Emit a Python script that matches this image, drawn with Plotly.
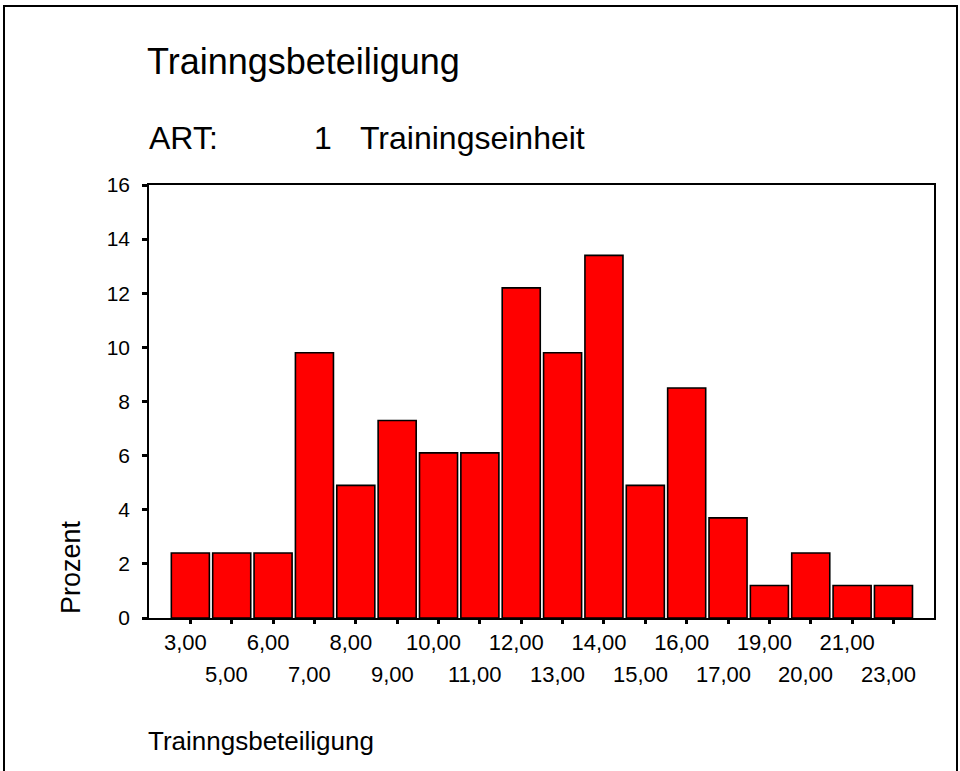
import plotly.graph_objects as go

# Trainingsbeteiligung (Kategorien) und Prozentwerte
kategorien = ["3,00", "5,00", "6,00", "7,00", "8,00", "9,00", "10,00", "11,00", "12,00",
              "13,00", "14,00", "15,00", "16,00", "17,00", "19,00", "20,00", "21,00", "23,00"]
prozent = [2.4, 2.4, 2.4, 9.8, 4.9, 7.3, 6.1, 6.1, 12.2,
           9.8, 13.4, 4.9, 8.5, 3.7, 1.2, 2.4, 1.2, 1.2]
y_ticks = [0, 2, 4, 6, 8, 10, 12, 14, 16]

positionen = list(range(len(kategorien)))
gerade = positionen[0::2]
ungerade = positionen[1::2]

FONT = "Liberation Sans, Arial, sans-serif"

# Plotbereich in Pixeln (fuer paper-Koordinaten)
L, R, T, B = 149, 934, 185, 618
W, H = R - L, B - T


def px_x(x):
    return (x - L) / W


def px_y(y):
    return (B - y) / H


fig = go.Figure()
fig.add_trace(go.Bar(
    x=positionen,
    y=prozent,
    marker=dict(color="#ff0000", line=dict(color="#000000", width=1.6)),
    hoverinfo="x+y",
))

fig.update_layout(
    width=960, height=771,
    margin=dict(l=L, r=960 - R, t=T, b=771 - B),
    paper_bgcolor="white", plot_bgcolor="white",
    showlegend=False,
    bargap=0.08,
    xaxis=dict(
        range=[-1.0, len(kategorien) - 0.02],
        showgrid=False, zeroline=False,
        showline=True, linecolor="black", linewidth=1.5, mirror=True,
        ticks="outside", ticklen=4, tickwidth=3, tickcolor="black",
        tickfont=dict(family=FONT, size=22, color="black"),
        tickmode="array", tickvals=positionen,
        ticktext=[kategorien[i] if i in gerade else "" for i in positionen],
        ticklabelstandoff=0, ticklabelshift=-5,
    ),
    yaxis=dict(
        range=[0, 16], tickmode="array", tickvals=y_ticks,
        showgrid=False, zeroline=False,
        showline=True, linecolor="black", linewidth=1.5, mirror=True,
        ticks="outside", ticklen=5, tickwidth=3, tickcolor="black",
        tickfont=dict(family=FONT, size=21, color="black"),
        ticklabelstandoff=8,
    ),
)

# zweite Reihe der Achsenbeschriftung (versetzt)
for i in ungerade:
    fig.add_annotation(text=kategorien[i], xref="x", yref="paper",
                       x=i, y=px_y(674), xanchor="center", yanchor="middle",
                       xshift=-5, showarrow=False,
                       font=dict(family=FONT, size=22, color="black"))

# Rahmen um die ganze Grafik
fig.add_shape(type="rect", xref="paper", yref="paper",
              x0=px_x(4), x1=px_x(957), y0=px_y(800), y1=px_y(6),
              line=dict(color="black", width=2), fillcolor="rgba(0,0,0,0)")

texte = [
    ("Trainngsbeteiligung", 145, 62, 36),
    ("ART:", 147, 138, 32),
    ("1", 312, 138, 32),
    ("Trainingseinheit", 358, 138, 32),
    ("Trainngsbeteiligung", 146, 741, 26),
]
for text, x, y, size in texte:
    fig.add_annotation(text=text, xref="paper", yref="paper",
                       x=px_x(x), y=px_y(y), xanchor="left", yanchor="middle",
                       showarrow=False, font=dict(family=FONT, size=size, color="black"))

fig.add_annotation(text="Prozent", xref="paper", yref="paper",
                   x=px_x(71), y=px_y(567), xanchor="center", yanchor="middle",
                   textangle=-90, showarrow=False,
                   font=dict(family=FONT, size=27, color="black"))

fig.write_html("out.html", config={"displayModeBar": False},
               post_script="document.body.style.margin='0';")
